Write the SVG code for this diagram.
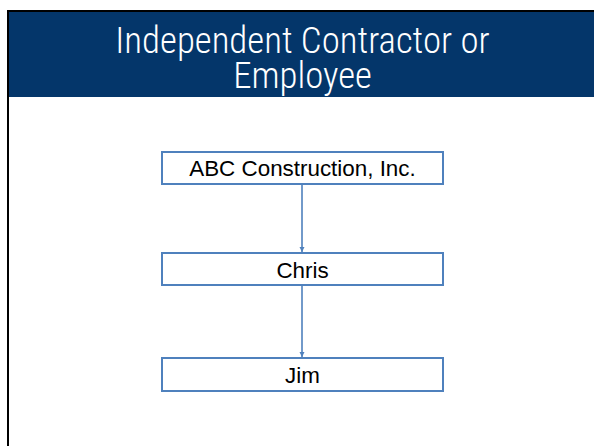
<svg xmlns="http://www.w3.org/2000/svg" width="594" height="446" viewBox="0 0 594 446">
<defs>
<style>
.title{font-family:Roboto,"Liberation Sans",sans-serif;font-stretch:condensed;font-weight:350;font-size:36.8px;fill:#ffffff;text-anchor:middle}
.box{fill:#ffffff;stroke:#4F81BD;stroke-width:2}
.lbl{font-family:"Liberation Sans",Arial,sans-serif;font-size:22.4px;fill:#000000;text-anchor:middle}
.conn{stroke:#4F81BD;stroke-width:1.6;fill:none}
</style>
<marker id="ah" viewBox="0 0 10 10" refX="10" refY="5" markerWidth="3.2" markerHeight="3.2" orient="auto" markerUnits="strokeWidth">
<path d="M0,0 L10,5 L0,10 z" fill="#4F81BD"/>
</marker>
</defs>
<rect width="594" height="446" fill="#ffffff"/>
<g id="frame">
<rect x="7" y="10" width="587" height="436" fill="#000000"/>
<rect x="9" y="12" width="585" height="434" fill="#ffffff"/>
</g>
<g id="header">
<rect x="9" y="12" width="585" height="85" fill="#04366A"/>
<text class="title" x="302.5" y="53.3">Independent Contractor or</text>
<text class="title" x="302.5" y="88.3">Employee</text>
</g>
<g id="connectors">
<line class="conn" x1="302" y1="184" x2="302" y2="252" marker-end="url(#ah)"/>
<line class="conn" x1="302" y1="285" x2="302" y2="357" marker-end="url(#ah)"/>
</g>
<g id="node-abc">
<rect class="box" x="162" y="152" width="281" height="32"/>
<text class="lbl" x="302.5" y="176">ABC Construction, Inc.</text>
</g>
<g id="node-chris">
<rect class="box" x="162" y="253" width="281" height="32"/>
<text class="lbl" x="302.5" y="277.5">Chris</text>
</g>
<g id="node-jim">
<rect class="box" x="162" y="358" width="281" height="33"/>
<text class="lbl" x="302.5" y="383">Jim</text>
</g>
</svg>
